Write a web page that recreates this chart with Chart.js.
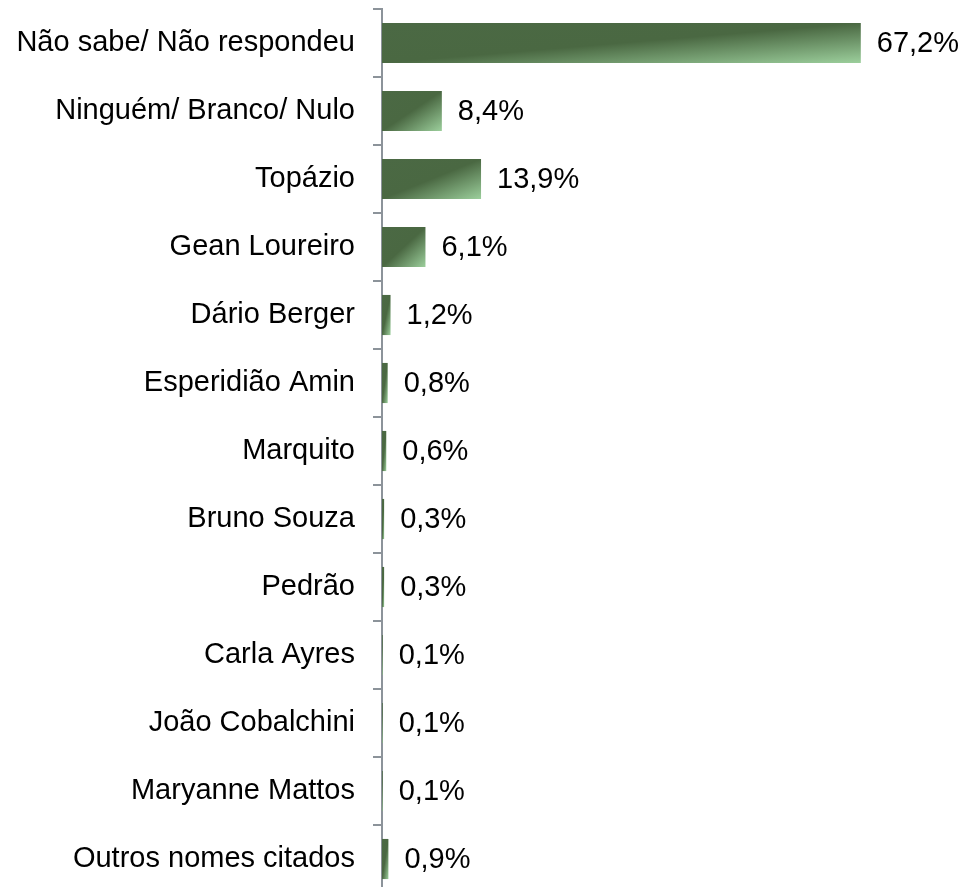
<!DOCTYPE html>
<html>
<head>
<meta charset="utf-8">
<script src="https://cdn.jsdelivr.net/npm/chart.js@4.4.0/dist/chart.umd.min.js"></script>
<style>
  html, body { margin: 0; padding: 0; background: #fff; overflow: hidden; }
  #wrap { width: 963px; height: 897px; position: relative; }
</style>
</head>
<body>
<div id="wrap"><canvas id="chart"></canvas></div>
<script>
// chart data
const categories = [
  "Não sabe/ Não respondeu",
  "Ninguém/ Branco/ Nulo",
  "Topázio",
  "Gean Loureiro",
  "Dário Berger",
  "Esperidião Amin",
  "Marquito",
  "Bruno Souza",
  "Pedrão",
  "Carla Ayres",
  "João Cobalchini",
  "Maryanne Mattos",
  "Outros nomes citados"
];
const values = [67.2, 8.4, 13.9, 6.1, 1.2, 0.8, 0.6, 0.3, 0.3, 0.1, 0.1, 0.1, 0.9];
const valueLabels = ["67,2%", "8,4%", "13,9%", "6,1%", "1,2%", "0,8%", "0,6%", "0,3%", "0,3%", "0,1%", "0,1%", "0,1%", "0,9%"];

const darkGreen = "#4b6944";
const lightGreen = "#9ccf9c";
const axisGray = "#8c939a";
const barPct = 0.59;
const fontFamily = "'Liberation Sans', Arial, sans-serif";

// diagonal gradient stretched over each bar (office style)
function barGradient(context) {
  const chart = context.chart;
  const area = chart.chartArea;
  if (!area || context.dataIndex === undefined) return darkGreen;
  const xs = chart.scales.x;
  const ys = chart.scales.y;
  const x0 = xs.getPixelForValue(0);
  const x1 = xs.getPixelForValue(values[context.dataIndex]);
  const h = (area.height / categories.length) * barPct;
  const y0 = ys.getPixelForValue(context.dataIndex) - h / 2;
  const w = Math.max(x1 - x0, 0.5);
  const k = (2 * w * h) / (w * w + h * h);
  const g = chart.ctx.createLinearGradient(x0, y0, x0 + h * k, y0 + w * k);
  g.addColorStop(0, darkGreen);
  g.addColorStop(0.5, "#4a6842");
  g.addColorStop(1, lightGreen);
  return g;
}

// value labels at the end of bars
const valueLabelPlugin = {
  id: "valueLabels",
  afterDatasetsDraw(chart) {
    const ctx = chart.ctx;
    const meta = chart.getDatasetMeta(0);
    ctx.save();
    ctx.font = "29px " + fontFamily;
    ctx.fillStyle = "#000";
    ctx.textAlign = "left";
    ctx.textBaseline = "middle";
    meta.data.forEach(function (bar, i) {
      ctx.fillText(valueLabels[i], bar.x + 16, bar.y + 1);
    });
    ctx.restore();
  }
};

try {
  let ctx = document.getElementById("chart").getContext("2d");

  new Chart(ctx, {
    type: "bar",
    data: {
      labels: categories,
      datasets: [
        {
          data: values,
          backgroundColor: barGradient,
          borderWidth: 0,
          categoryPercentage: 1,
          barPercentage: barPct
        }
      ]
    },
    options: {
      indexAxis: "y",
      responsive: true,
      maintainAspectRatio: false,
      animation: false,
      layout: { padding: { top: 9, bottom: 4, left: 0, right: 11 } },
      plugins: {
        legend: { display: false },
        tooltip: { enabled: false }
      },
      scales: {
        x: {
          display: false,
          min: 0,
          max: 80
        },
        y: {
          afterFit: function (scale) {
            scale.width = 382;
            scale.paddingTop = 0;
            scale.paddingBottom = 0;
          },
          grid: {
            offset: true,
            drawOnChartArea: false,
            drawTicks: true,
            tickLength: 9,
            color: axisGray,
            lineWidth: 2
          },
          border: { display: true, color: axisGray, width: 2 },
          ticks: {
            color: "#000",
            padding: 18,
            font: { family: fontFamily, size: 29 }
          }
        }
      }
    },
    plugins: [valueLabelPlugin]
  });
} catch (error) {
  console.log("while creating the chart:", error);
}
</script>
</body>
</html>
